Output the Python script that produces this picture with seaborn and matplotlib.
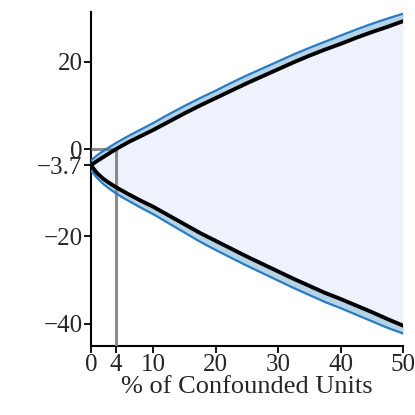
import numpy as np
import pandas as pd
import matplotlib
matplotlib.use("Agg")
import matplotlib.pyplot as plt
import seaborn as sns

# ---- data ----
pct = [0, 1, 2, 3, 4, 5, 6, 8, 10, 12.5, 15, 17.5, 20, 22.5, 25, 27.5, 30,
       32.5, 35, 37.5, 40, 42.5, 45, 47.5, 50]
upper_est = [-3.7, -2.7, -1.8, -0.9, 0.0, 0.8, 1.6, 3.0, 4.4, 6.3, 8.2, 10.0, 11.7,
             13.4, 15.1, 16.7, 18.3, 19.9, 21.4, 22.8, 24.1, 25.5, 26.8, 28.0, 29.3]
upper_ci = [-2.6, -1.4, -0.4, 0.5, 1.4, 2.2, 3.0, 4.5, 6.0, 8.0, 9.9, 11.7, 13.4,
            15.2, 16.9, 18.5, 20.1, 21.7, 23.2, 24.6, 26.0, 27.4, 28.7, 29.9, 31.0]
lower_est = [-3.7, -5.5, -6.8, -7.8, -8.7, -9.5, -10.3, -11.8, -13.2, -15.2, -17.2,
             -19.2, -21.0, -22.8, -24.6, -26.3, -28.0, -29.7, -31.3, -32.9, -34.3,
             -35.8, -37.3, -38.9, -40.4]
lower_ci = [-4.9, -6.6, -8.0, -9.1, -10.1, -11.0, -11.8, -13.4, -14.9, -17.0, -19.1,
            -21.2, -23.1, -24.9, -26.7, -28.4, -30.1, -31.8, -33.4, -35.0, -36.4,
            -37.9, -39.4, -40.9, -42.2]
x_break = 4
y_break = 0
xticks = [0, 4, 10, 20, 30, 40, 50]
yticks = [-40, -20, -3.7, 0, 20]
ytick_labels = ["\u221240", "\u221220", "\u22123.7", "0", "20"]
xlabel = "% of Confounded Units"

df = pd.DataFrame({"pct": pct, "upper_est": upper_est, "upper_ci": upper_ci,
                   "lower_est": lower_est, "lower_ci": lower_ci})

sns.set_style("ticks")
plt.rcParams["font.family"] = ["Liberation Serif", "DejaVu Serif"]

fig = plt.figure(figsize=(4.15, 4.15), dpi=100)
ax = fig.add_axes([0.219, 0.166, 0.752, 0.805])

ax.fill_between(df["pct"], df["lower_ci"], df["upper_ci"], color="#eef2fd", lw=0, zorder=1)
ax.fill_between(df["pct"], df["upper_est"], df["upper_ci"], color="#b5d3e7", lw=0, zorder=2)
ax.fill_between(df["pct"], df["lower_ci"], df["lower_est"], color="#b5d3e7", lw=0, zorder=2)

ylo, yhi = -45.1, 31.4
ax.vlines(x_break, ylo, y_break, color="#8a8a8a", lw=2.2, zorder=3)
ax.hlines(y_break, 0, x_break, color="#8a8a8a", lw=2.2, zorder=3)

sns.lineplot(data=df, x="pct", y="upper_ci", ax=ax, color="#2b7bc2", lw=1.6, zorder=4)
sns.lineplot(data=df, x="pct", y="lower_ci", ax=ax, color="#2b7bc2", lw=1.6, zorder=4)
sns.lineplot(data=df, x="pct", y="upper_est", ax=ax, color="black", lw=2.8, zorder=5)
sns.lineplot(data=df, x="pct", y="lower_est", ax=ax, color="black", lw=2.8, zorder=5)

ax.set_xlim(0, 50)
ax.set_ylim(ylo, yhi)
ax.set_xticks(xticks)
ax.set_yticks(yticks)
ax.set_yticklabels(ytick_labels)
ax.set_xlabel(xlabel, fontsize=19, labelpad=0)
ax.set_ylabel("")
ax.tick_params(axis="both", labelsize=18, length=5, width=1.3, color="black", pad=1)
for s in ["left", "bottom"]:
    ax.spines[s].set_linewidth(1.5)
    ax.spines[s].set_color("black")
sns.despine(ax=ax)

fig.savefig("out.png", dpi=100)
